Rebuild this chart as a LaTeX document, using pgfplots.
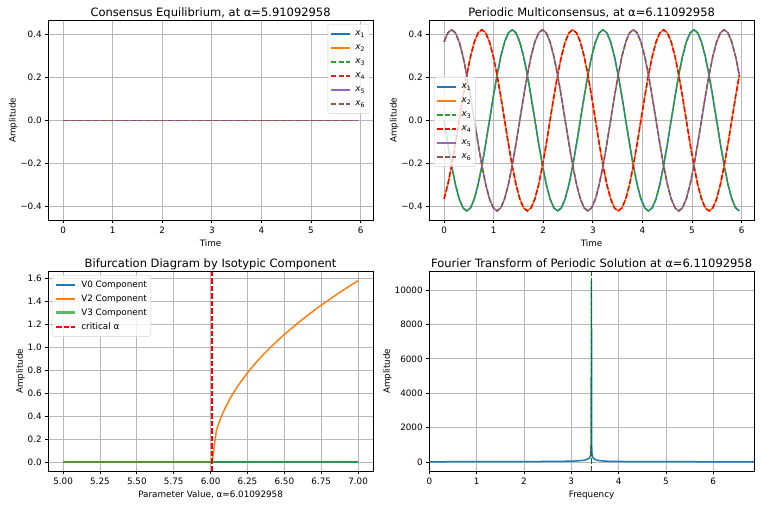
\documentclass[border=0pt]{standalone}
\usepackage{pgfplots}
\pgfplotsset{compat=1.18}
\usepackage{pgfplotstable}
\usepackage{fontspec}
\setmainfont{DejaVu Sans}

\definecolor{tabblue}{HTML}{1F77B4}
\definecolor{taborange}{HTML}{FF7F0E}
\definecolor{tabgreen}{HTML}{2CA02C}
\definecolor{tabred}{HTML}{D62728}
\definecolor{tabpurple}{HTML}{9467BD}
\definecolor{tabbrown}{HTML}{8C564B}
\definecolor{gridgray}{HTML}{B8B8B8}
\definecolor{darkgreen}{HTML}{008000}

% periodic multiconsensus orbit: t, x1=x3, x2=x4, x5=x6
\pgfplotstableread{
t a b c
0.0000 0 -0.3637 0.3637
0.0763 -0.1087 -0.2970 0.4057
0.1527 -0.2100 -0.2100 0.4200
0.2290 -0.2970 -0.1087 0.4057
0.3053 -0.3637 0 0.3637
0.3816 -0.4057 0.1087 0.2970
0.4580 -0.4200 0.2100 0.2100
0.5343 -0.4057 0.2970 0.1087
0.6106 -0.3637 0.3637 0
0.6869 -0.2970 0.4057 -0.1087
0.7633 -0.2100 0.4200 -0.2100
0.8396 -0.1087 0.4057 -0.2970
0.9159 0 0.3637 -0.3637
0.9922 0.1087 0.2970 -0.4057
1.0686 0.2100 0.2100 -0.4200
1.1449 0.2970 0.1087 -0.4057
1.2212 0.3637 0 -0.3637
1.2975 0.4057 -0.1087 -0.2970
1.3739 0.4200 -0.2100 -0.2100
1.4502 0.4057 -0.2970 -0.1087
1.5265 0.3637 -0.3637 0
1.6028 0.2970 -0.4057 0.1087
1.6792 0.2100 -0.4200 0.2100
1.7555 0.1087 -0.4057 0.2970
1.8318 0 -0.3637 0.3637
1.9081 -0.1087 -0.2970 0.4057
1.9845 -0.2100 -0.2100 0.4200
2.0608 -0.2970 -0.1087 0.4057
2.1371 -0.3637 0 0.3637
2.2134 -0.4057 0.1087 0.2970
2.2898 -0.4200 0.2100 0.2100
2.3661 -0.4057 0.2970 0.1087
2.4424 -0.3637 0.3637 0
2.5187 -0.2970 0.4057 -0.1087
2.5951 -0.2100 0.4200 -0.2100
2.6714 -0.1087 0.4057 -0.2970
2.7477 0 0.3637 -0.3637
2.8240 0.1087 0.2970 -0.4057
2.9004 0.2100 0.2100 -0.4200
2.9767 0.2970 0.1087 -0.4057
3.0530 0.3637 0 -0.3637
3.1293 0.4057 -0.1087 -0.2970
3.2057 0.4200 -0.2100 -0.2100
3.2820 0.4057 -0.2970 -0.1087
3.3583 0.3637 -0.3637 0
3.4346 0.2970 -0.4057 0.1087
3.5110 0.2100 -0.4200 0.2100
3.5873 0.1087 -0.4057 0.2970
3.6636 0 -0.3637 0.3637
3.7399 -0.1087 -0.2970 0.4057
3.8163 -0.2100 -0.2100 0.4200
3.8926 -0.2970 -0.1087 0.4057
3.9689 -0.3637 0 0.3637
4.0452 -0.4057 0.1087 0.2970
4.1216 -0.4200 0.2100 0.2100
4.1979 -0.4057 0.2970 0.1087
4.2742 -0.3637 0.3637 0
4.3505 -0.2970 0.4057 -0.1087
4.4269 -0.2100 0.4200 -0.2100
4.5032 -0.1087 0.4057 -0.2970
4.5795 0 0.3637 -0.3637
4.6558 0.1087 0.2970 -0.4057
4.7322 0.2100 0.2100 -0.4200
4.8085 0.2970 0.1087 -0.4057
4.8848 0.3637 0 -0.3637
4.9611 0.4057 -0.1087 -0.2970
5.0375 0.4200 -0.2100 -0.2100
5.1138 0.4057 -0.2970 -0.1087
5.1901 0.3637 -0.3637 0
5.2664 0.2970 -0.4057 0.1087
5.3428 0.2100 -0.4200 0.2100
5.4191 0.1087 -0.4057 0.2970
5.4955 0 -0.3637 0.3637
5.5718 -0.1087 -0.2970 0.4057
5.6481 -0.2100 -0.2100 0.4200
5.7244 -0.2970 -0.1087 0.4057
5.8008 -0.3637 0 0.3637
5.8771 -0.4057 0.1087 0.2970
5.9534 -0.4200 0.2100 0.2100
}\orbit

% amplitude of the V2 branch against the parameter
\pgfplotstableread{
p amp
5.00 0
6.01 0
6.04 0.280
6.06 0.352
6.08 0.418
6.10 0.474
6.13 0.548
6.16 0.614
6.20 0.691
6.25 0.777
6.30 0.855
6.35 0.926
6.40 0.992
6.45 1.053
6.50 1.112
6.55 1.167
6.60 1.220
6.65 1.271
6.70 1.320
6.75 1.367
6.80 1.412
6.85 1.456
6.90 1.499
6.95 1.541
7.00 1.581
}\branch

% magnitude spectrum of the periodic solution
\pgfplotstableread{
f mag
0.00 10
0.50 12
1.00 14
1.50 16
2.00 20
2.50 28
2.80 36
3.00 48
3.10 58
3.20 76
3.25 92
3.30 120
3.35 170
3.38 220
3.40 300
3.41 450
3.42 1100
3.426 10540
3.432 900
3.44 420
3.45 300
3.46 240
3.48 190
3.50 150
3.55 100
3.60 75
3.70 50
3.80 38
4.00 28
4.50 18
5.00 14
5.50 12
6.00 10
6.50 9
6.86 8
}\spectrum

\pgfplotsset{
  mpl/.style={
    scale only axis, width=324.6pt, height=199.3pt,
    grid=major, grid style={line width=0.75pt, gridgray},
    axis line style={line width=0.75pt, black},
    tick align=outside, tick pos=left,
    major tick length=3.1pt,
    every tick/.style={black, line width=0.75pt},
    tick label style={font=\fontsize{8.8}{10}\selectfont},
    label style={font=\fontsize{8.8}{10}\selectfont},
    title style={font=\fontsize{11.5}{13}\selectfont, at={(0.5,1)}, anchor=base, yshift=-2pt},
    ylabel shift=-4pt,
    /pgf/number format/assume math mode=true,
    legend cell align=left,
    legend style={font=\fontsize{8.8}{10}\selectfont, draw=black!18,
      rounded corners=2pt, fill=white, fill opacity=0.8, text opacity=1,
      inner xsep=2.5pt, inner ysep=3.5pt, row sep=1.8pt,
      nodes={inner sep=1.5pt, text height=6.8pt, text depth=2.4pt},
      /tikz/every odd column/.append style={column sep=3pt}},
    legend image code/.code={\draw[##1] (0pt,0pt) -- (19pt,0pt);},
  },
  ln/.style={line width=1.5pt},
  dsh/.style={line width=1.5pt, dash pattern=on 5.2pt off 2.3pt},
}

\begin{document}
\begin{tikzpicture}
\useasboundingbox (0,0) rectangle (762pt,-505pt);

% consensus equilibrium
\begin{axis}[mpl, at={(48.3pt,-20.7pt)}, anchor=north west,
  title={Consensus Equilibrium, at α=5.91092958},
  xlabel={Time}, ylabel={Amplitude},
  xmin=-0.2975, xmax=6.2475, ymin=-0.462, ymax=0.462,
  xtick={0,1,2,3,4,5,6},
  ytick={-0.4,-0.2,0,0.2,0.4}, yticklabels={−0.4,−0.2,0.0,0.2,0.4},
  legend style={at={(1,1)}, anchor=north east, xshift=-3.7pt, yshift=-3.3pt}]
\addplot[tabblue, ln] coordinates {(0,0) (5.9534,0)};
\addlegendentry{\textit{x}\textsubscript{1}}
\addplot[taborange, ln] coordinates {(0,0) (5.9534,0)};
\addlegendentry{\textit{x}\textsubscript{2}}
\addplot[tabgreen, dsh] coordinates {(0,0) (5.9534,0)};
\addlegendentry{\textit{x}\textsubscript{3}}
\addplot[tabred, dsh] coordinates {(0,0) (5.9534,0)};
\addlegendentry{\textit{x}\textsubscript{4}}
\addplot[tabpurple, ln] coordinates {(0,0) (5.9534,0)};
\addlegendentry{\textit{x}\textsubscript{5}}
\addplot[tabbrown, dsh] coordinates {(0,0) (5.9534,0)};
\addlegendentry{\textit{x}\textsubscript{6}}
\end{axis}

% periodic multiconsensus
\begin{axis}[mpl, at={(429.3pt,-20.7pt)}, anchor=north west,
  title={Periodic Multiconsensus, at α=6.11092958},
  xlabel={Time}, ylabel={Amplitude},
  xmin=-0.2975, xmax=6.2475, ymin=-0.462, ymax=0.462,
  xtick={0,1,2,3,4,5,6},
  ytick={-0.4,-0.2,0,0.2,0.4}, yticklabels={−0.4,−0.2,0.0,0.2,0.4},
  legend style={at={(0,1)}, anchor=north west, xshift=4.7pt, yshift=-56.3pt}]
\addplot[tabblue, ln] table[x=t, y=a] {\orbit};
\addlegendentry{\textit{x}\textsubscript{1}}
\addplot[taborange, ln] table[x=t, y=b] {\orbit};
\addlegendentry{\textit{x}\textsubscript{2}}
\addplot[tabgreen, dsh] table[x=t, y=a] {\orbit};
\addlegendentry{\textit{x}\textsubscript{3}}
\addplot[red, dsh] table[x=t, y=b] {\orbit};
\addlegendentry{\textit{x}\textsubscript{4}}
\addplot[tabpurple, ln] table[x=t, y=c] {\orbit};
\addlegendentry{\textit{x}\textsubscript{5}}
\addplot[tabbrown, dsh] table[x=t, y=c] {\orbit};
\addlegendentry{\textit{x}\textsubscript{6}}
\end{axis}

% bifurcation diagram
\begin{axis}[mpl, at={(48.3pt,-271.7pt)}, anchor=north west,
  title={Bifurcation Diagram by Isotypic Component},
  xlabel={Parameter Value, α=6.01092958}, ylabel={Amplitude},
  xmin=4.9, xmax=7.1, ymin=-0.079, ymax=1.659,
  xtick={5,5.25,5.5,5.75,6,6.25,6.5,6.75,7},
  ytick={0,0.2,0.4,0.6,0.8,1.0,1.2,1.4,1.6},
  xticklabel style={/pgf/number format/.cd, fixed, fixed zerofill, precision=2},
  yticklabel style={/pgf/number format/.cd, fixed, fixed zerofill, precision=1},
  legend style={at={(0,1)}, anchor=north west, xshift=4pt, yshift=-3.3pt}]
\addplot[tabblue, ln] coordinates {(5.0,0) (7.0,0)};
\addlegendentry{V0 Component}
\addplot[taborange, ln] table[x=p, y=amp] {\branch};
\addlegendentry{V2 Component}
\addplot[tabgreen, line width=2.8pt, opacity=0.75] coordinates {(5.0,0) (7.0,0)};
\addlegendentry{V3 Component}
\addplot[red, dsh] coordinates {(6.01092958,-0.079) (6.01092958,1.659)};
\addlegendentry{critical α}
\end{axis}

% Fourier transform
\begin{axis}[mpl, at={(429.3pt,-271.7pt)}, anchor=north west,
  title={Fourier Transform of Periodic Solution at α=6.11092958},
  xlabel={Frequency}, ylabel={Amplitude},
  xmin=0, xmax=6.86, ymin=-527, ymax=11067,
  xtick={0,1,2,3,4,5,6},
  ytick={0,2000,4000,6000,8000,10000},
  scaled y ticks=false,
  yticklabel style={/pgf/number format/.cd, fixed, 1000 sep={}}]
\addplot[tabblue, ln] table[x=f, y=mag] {\spectrum};
\addplot[darkgreen, dsh] coordinates {(3.426,-527) (3.426,11067)};
\end{axis}
\end{tikzpicture}
\end{document}
